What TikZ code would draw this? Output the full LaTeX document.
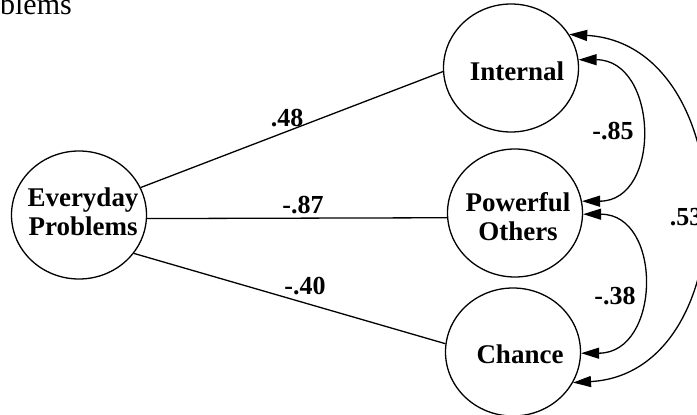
\documentclass[tikz,border=0pt]{standalone}
\usepackage{fontspec}
\setmainfont{Liberation Serif}
\usetikzlibrary{shapes.geometric,arrows.meta}
\begin{document}
\begin{tikzpicture}[x=1pt,y=1pt,
  var/.style={ellipse,draw,line width=1.3pt,minimum width=135pt,minimum height=128pt,inner sep=0pt},
  vtxt/.style={font=\bfseries\fontsize{27}{29}\selectfont,align=center,inner sep=0pt},
  coef/.style={font=\bfseries\fontsize{26}{28}\selectfont,inner sep=0pt},
  reg/.style={line width=1.3pt},
  cov/.style={line width=1.3pt,{Triangle[length=18pt,width=11pt]}-{Triangle[length=18pt,width=11pt]}},
]
\useasboundingbox (0,0) rectangle (697,-415);
\node[anchor=base east,font=\fontsize{30}{32}\selectfont,inner sep=0pt] (cap) at (72,-15) {blems};
\node[var] (ep) at (79,-215) {};
\node[var] (int) at (511,-68) {};
\node[var] (pow) at (515,-213) {};
\node[var] (ch) at (513,-352) {};
\node[vtxt] (eptxt) at (83,-212) {Everyday\\Problems};
\node[vtxt] (inttxt) at (517,-71) {Internal};
\node[vtxt] (powtxt) at (518,-217) {Powerful\\Others};
\node[vtxt] (chtxt) at (520,-354) {Chance};
\draw[reg] (ep.24) -- (int.183);
\draw[reg] (ep.-3) -- (pow.184);
\draw[reg] (ep.-35) -- (ch.173);
\draw[cov] (int.7) .. controls +(80,0) and +(80,0) .. (pow.10);
\draw[cov] (pow.-1) .. controls +(80,0) and +(80,0) .. (ch.-1);
\draw[cov] (int.30) .. controls +(175,-10) and +(175,10) .. (ch.-27);
\node[coef] (l48) at (287,-118) {.48};
\node[coef] (l87) at (303,-205) {-.87};
\node[coef] (l40) at (305,-286) {-.40};
\node[coef] (l85) at (613,-131) {-.85};
\node[coef] (l38) at (615,-296) {-.38};
\node[coef] (l53) at (686,-217) {.53};
\end{tikzpicture}
\end{document}
